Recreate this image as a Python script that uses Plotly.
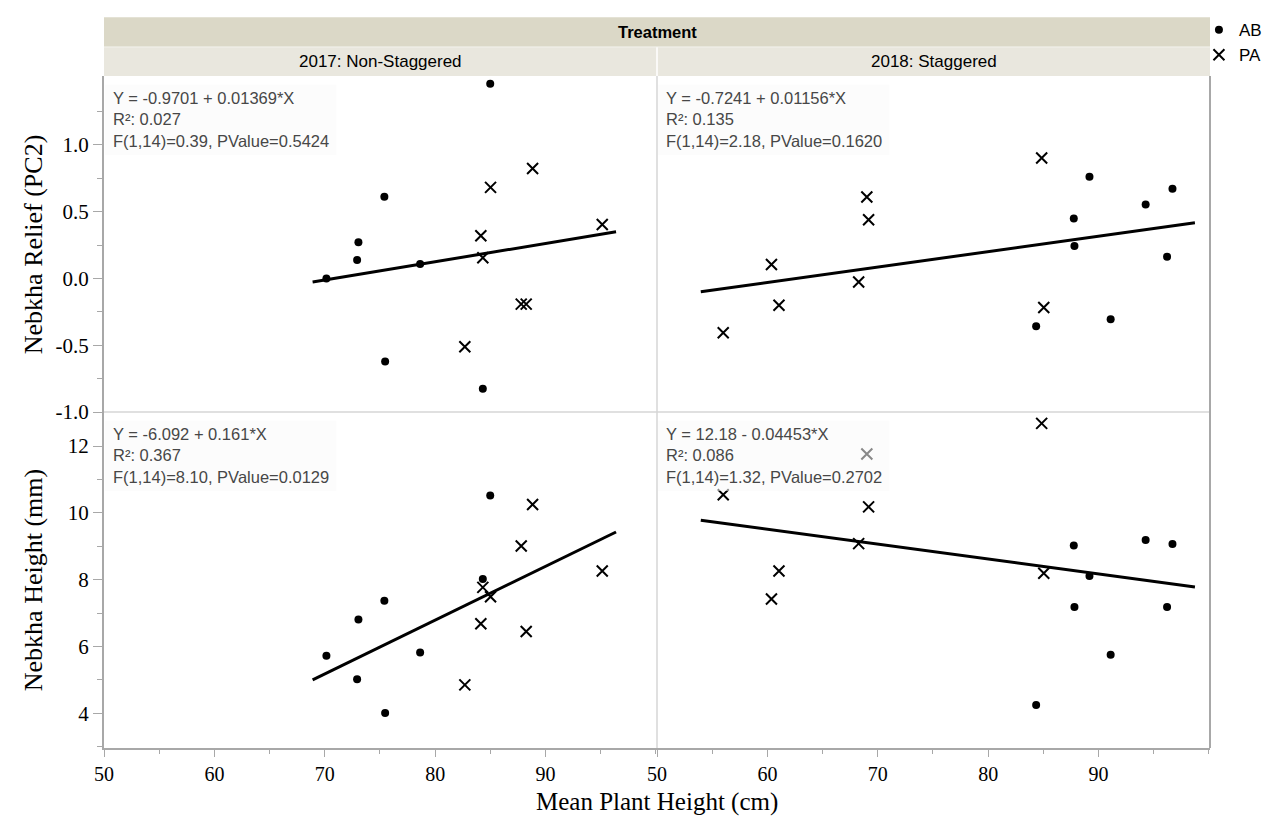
import plotly.graph_objects as go
from plotly.subplots import make_subplots

# ---------------- data ----------------
years = ["2017: Non-Staggered", "2018: Staggered"]
groups = ["AB", "PA"]

x2017_AB = [84.99, 75.40, 73.05, 72.93, 78.64, 70.15, 75.47, 84.32]
relief2017_AB = [1.458, 0.611, 0.271, 0.138, 0.108, 0.000, -0.621, -0.825]
height2017_AB = [10.52, 7.37, 6.81, 5.02, 5.82, 5.72, 4.01, 8.02]

x2017_PA = [88.83, 85.02, 84.14, 84.32, 95.14, 87.80, 88.25, 82.69]
relief2017_PA = [0.823, 0.682, 0.320, 0.155, 0.404, -0.192, -0.192, -0.512]
height2017_PA = [10.25, 7.49, 6.68, 7.77, 8.26, 9.01, 6.45, 4.85]

x2018_AB = [89.18, 96.70, 94.27, 87.76, 87.82, 96.21, 91.10, 84.35]
relief2018_AB = [0.762, 0.672, 0.554, 0.449, 0.243, 0.162, -0.306, -0.358]
height2018_AB = [8.11, 9.07, 9.19, 9.02, 7.18, 7.18, 5.75, 4.25]

x2018_PA = [84.85, 69.01, 69.17, 60.37, 68.27, 61.05, 85.04, 56.00]
relief2018_PA = [0.902, 0.610, 0.439, 0.105, -0.027, -0.201, -0.218, -0.407]
height2018_PA = [12.68, 11.76, 10.18, 7.42, 9.08, 8.26, 8.19, 10.54]

# fit coefficients (intercept, slope) per panel: [row][col]
fit_intercept = [[-0.9701, -0.7241], [-6.092, 12.18]]
fit_slope = [[0.01369, 0.01156], [0.161, -0.04453]]
fit_text = [
    ["Y = -0.9701 + 0.01369*X<br>R²: 0.027<br>F(1,14)=0.39, PValue=0.5424",
     "Y = -0.7241 + 0.01156*X<br>R²: 0.135<br>F(1,14)=2.18, PValue=0.1620"],
    ["Y = -6.092 + 0.161*X<br>R²: 0.367<br>F(1,14)=8.10, PValue=0.0129",
     "Y = 12.18 - 0.04453*X<br>R²: 0.086<br>F(1,14)=1.32, PValue=0.2702"],
]

x_ticks = [50, 60, 70, 80, 90]
relief_ticks = [-1.0, -0.5, 0.0, 0.5, 1.0]
relief_ticktext = ["-1.0", "-0.5", "0.0", "0.5", "1.0"]
height_ticks = [4, 6, 8, 10, 12]
height_ticktext = ["4", "6", "8", "10", "12"]

# ---------------- figure ----------------
fig = make_subplots(rows=2, cols=2, horizontal_spacing=0, vertical_spacing=0,
                    shared_xaxes=True, shared_yaxes=True)

panel_x = {(0, "AB"): x2017_AB, (0, "PA"): x2017_PA,
           (1, "AB"): x2018_AB, (1, "PA"): x2018_PA}
panel_y = {
    (0, 0, "AB"): relief2017_AB, (0, 0, "PA"): relief2017_PA,
    (0, 1, "AB"): relief2018_AB, (0, 1, "PA"): relief2018_PA,
    (1, 0, "AB"): height2017_AB, (1, 0, "PA"): height2017_PA,
    (1, 1, "AB"): height2018_AB, (1, 1, "PA"): height2018_PA,
}

first = True
for r in range(2):
    for c in range(2):
        allx = panel_x[(c, "AB")] + panel_x[(c, "PA")]
        lo, hi = min(allx), max(allx)
        pad = 0.05 * (hi - lo)
        lx = [lo - pad, hi + pad]
        ly = [fit_intercept[r][c] + fit_slope[r][c] * v for v in lx]
        fig.add_trace(go.Scatter(x=lx, y=ly, mode="lines",
                                 line=dict(color="black", width=3),
                                 showlegend=False, hoverinfo="skip"),
                      row=r + 1, col=c + 1)
        fig.add_trace(go.Scatter(x=panel_x[(c, "AB")], y=panel_y[(r, c, "AB")],
                                 mode="markers", name="AB",
                                 marker=dict(symbol="circle", size=8, color="black"),
                                 showlegend=first),
                      row=r + 1, col=c + 1)
        fig.add_trace(go.Scatter(x=panel_x[(c, "PA")], y=panel_y[(r, c, "PA")],
                                 mode="markers", name="PA",
                                 marker=dict(symbol="x-thin", size=11, color="black",
                                             line=dict(width=2, color="black")),
                                 showlegend=first),
                      row=r + 1, col=c + 1)
        first = False

axis_gray = "#a8a8a8"
tickfont = dict(family="Liberation Serif", size=21, color="black")
xtickfont = dict(family="Liberation Serif", size=20, color="black")

for c in (1, 2):
    fig.update_xaxes(range=[50, 100.1], showline=True, linecolor=axis_gray, linewidth=2,
                     ticks="outside", ticklen=7, tickwidth=1, tickcolor=axis_gray,
                     tickvals=x_ticks, tickfont=xtickfont, showgrid=False, zeroline=False,
                     minor=dict(ticks="outside", ticklen=4, tickcolor=axis_gray,
                                dtick=5, tick0=50, showgrid=False),
                     row=2, col=c)
    fig.update_xaxes(range=[50, 100.1], showline=False, showticklabels=False, ticks="",
                     showgrid=False, zeroline=False, row=1, col=c)

fig.update_yaxes(range=[-1.0, 1.516], showline=True, linecolor=axis_gray, linewidth=2,
                 ticks="outside", ticklen=9, tickcolor=axis_gray,
                 tickvals=relief_ticks, ticktext=relief_ticktext, tickfont=tickfont,
                 showgrid=False, zeroline=False,
                 minor=dict(ticks="outside", ticklen=5, tickcolor=axis_gray,
                            tickmode="array", tickvals=[-0.75, -0.25, 0.25, 0.75, 1.25],
                            showgrid=False),
                 row=1, col=1)
fig.update_yaxes(range=[2.96, 13.02], showline=True, linecolor=axis_gray, linewidth=2,
                 ticks="outside", ticklen=9, tickcolor=axis_gray,
                 tickvals=height_ticks, ticktext=height_ticktext, tickfont=tickfont,
                 showgrid=False, zeroline=False,
                 minor=dict(ticks="outside", ticklen=5, tickcolor=axis_gray,
                            tickmode="array", tickvals=[3, 5, 7, 9, 11, 13],
                            showgrid=False),
                 row=2, col=1)
fig.update_yaxes(range=[-1.0, 1.516], showline=False, showticklabels=False, ticks="",
                 showgrid=False, zeroline=False, row=1, col=2)
fig.update_yaxes(range=[2.96, 13.02], showline=False, showticklabels=False, ticks="",
                 showgrid=False, zeroline=False, row=2, col=2)

shapes = []
# panel borders / dividers
shapes.append(dict(type="line", xref="paper", yref="paper", x0=0.5, x1=0.5, y0=0, y1=1,
                   line=dict(color="#d6d6d6", width=1.5)))
shapes.append(dict(type="line", xref="paper", yref="paper", x0=0, x1=1, y0=0.5, y1=0.5,
                   line=dict(color="#d6d6d6", width=1.5)))
shapes.append(dict(type="line", xref="paper", yref="paper", x0=1, x1=1, y0=0, y1=1,
                   line=dict(color=axis_gray, width=2)))
# header bands
shapes.append(dict(type="rect", xref="paper", yref="paper", x0=0, x1=1, y0=1.0432, y1=1.0874,
                   fillcolor="#dbd8c7", line=dict(width=0), layer="above"))
shapes.append(dict(type="rect", xref="paper", yref="paper", x0=0, x1=0.5, y0=1.0, y1=1.0432,
                   fillcolor="#e9e7de", line=dict(width=0), layer="above"))
shapes.append(dict(type="rect", xref="paper", yref="paper", x0=0.5, x1=1, y0=1.0, y1=1.0432,
                   fillcolor="#e9e7de", line=dict(width=0), layer="above"))
shapes.append(dict(type="line", xref="paper", yref="paper", x0=0.5, x1=0.5, y0=1.0, y1=1.0432,
                   line=dict(color="white", width=1.5), layer="above"))
shapes.append(dict(type="line", xref="paper", yref="paper", x0=0, x1=1, y0=1.0432, y1=1.0432,
                   line=dict(color="#f4f3ee", width=1), layer="above"))

annotations = []
# statistics boxes
for r in range(2):
    for c in range(2):
        sp = fig.get_subplot(r + 1, c + 1)
        xa = sp.xaxis.plotly_name.replace("axis", "")
        ya = sp.yaxis.plotly_name.replace("axis", "")
        shapes.append(dict(type="rect", xref=f"{xa} domain", yref=f"{ya} domain",
                           x0=0.002, x1=0.42, y0=0.765, y1=0.975,
                           fillcolor="rgba(250,250,250,0.55)", line=dict(width=0),
                           layer="above"))
        annotations.append(dict(text=fit_text[r][c], xref=f"{xa} domain", yref=f"{ya} domain",
                                x=0.013, y=0.872, xanchor="left", yanchor="middle",
                                align="left", showarrow=False,
                                font=dict(family="Liberation Sans", size=16.5, color="#474747")))

annotations.append(dict(text="<b>Treatment</b>", xref="paper", yref="paper", x=0.5, y=1.0655,
                        xanchor="center", yanchor="middle", showarrow=False,
                        font=dict(family="Liberation Sans", size=16.5, color="black")))
for i, yr in enumerate(years):
    annotations.append(dict(text=yr, xref="paper", yref="paper", x=0.25 + 0.5 * i, y=1.0216,
                            xanchor="center", yanchor="middle", showarrow=False,
                            font=dict(family="Liberation Sans", size=17, color="black")))

title_font = dict(family="Liberation Serif", size=26, color="black")
annotations.append(dict(text="Nebkha Relief (PC2)", xref="paper", yref="paper", x=-0.064, y=0.75,
                        textangle=-90, xanchor="center", yanchor="middle", showarrow=False,
                        font=title_font))
annotations.append(dict(text="Nebkha Height (mm)", xref="paper", yref="paper", x=-0.064, y=0.25,
                        textangle=-90, xanchor="center", yanchor="middle", showarrow=False,
                        font=title_font))
annotations.append(dict(text="Mean Plant Height (cm)", xref="paper", yref="paper", x=0.5, y=-0.1031,
                        xanchor="center", yanchor="bottom", showarrow=False, borderpad=0,
                        font=dict(family="Liberation Serif", size=25, color="black")))

fig.update_layout(
    width=1281, height=819,
    margin=dict(l=104, r=71, t=69, b=71),
    paper_bgcolor="white", plot_bgcolor="white",
    shapes=shapes, annotations=annotations,
    legend=dict(x=0.99, xanchor="left", y=1.095, yanchor="top",
                font=dict(family="Liberation Sans", size=17, color="black"),
                bgcolor="rgba(0,0,0,0)", tracegroupgap=0),
    showlegend=True,
)

fig.write_html("out.html")
